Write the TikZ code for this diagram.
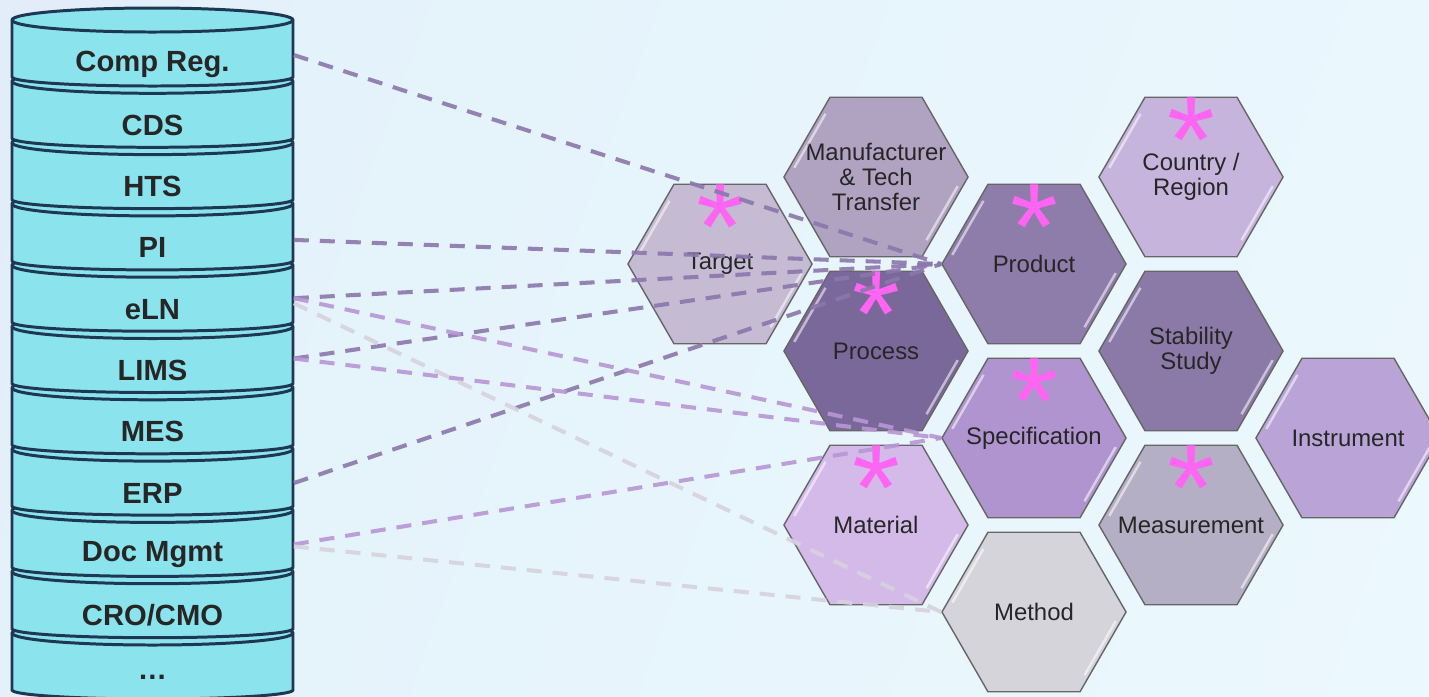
\documentclass[tikz,border=0pt]{standalone}
\usepackage{fontspec}
\setmainfont{Liberation Sans}
\usetikzlibrary{shapes.geometric, calc}

\definecolor{bgtop}{RGB}{238,250,254}
\definecolor{bgmid}{RGB}{228,242,251}
\definecolor{bglav}{RGB}{226,226,246}
\definecolor{dbfill}{RGB}{139,227,238}
\definecolor{dbline}{RGB}{30,56,84}
\definecolor{starpink}{RGB}{255,100,242}
\definecolor{linkdark}{RGB}{140,118,172}
\definecolor{linklight}{RGB}{184,150,214}
\definecolor{linkgrey}{RGB}{215,210,222}

\pgfdeclarehorizontalshading{bgshade}{100bp}{color(0bp)=(bglav); color(30bp)=(bgmid);
	color(100bp)=(bgtop)}

\tikzset{
	disk/.style={fill=dbfill, draw=dbline, line width=0.85pt},
	dblabel/.style={font=\bfseries\fontsize{8.3}{10}\selectfont, text=black!85,
		minimum width=2.81cm, inner sep=0pt},
	hexa/.style={regular polygon, regular polygon sides=6, minimum size=1.84cm,
		inner sep=0pt, draw=black!60, line width=0.4pt},
	hextext/.style={text=black!85, font=\fontsize{6.8}{7.1}\selectfont, align=center,
		inner sep=0pt},
	asterisk/.style={text=starpink, font=\fontsize{35}{35}\selectfont,
		inner sep=0pt, anchor=base},
	bevel/.style={white, opacity=0.55, line width=0.7pt, shorten <=3pt, shorten >=4pt},
	link/.style={line width=1.15pt, dash pattern=on 0.15cm off 0.11cm, opacity=0.9},
}

\begin{document}
\begin{tikzpicture}[x=0.01cm, y=0.01cm]

	% Background
	\shade[shading=bgshade, shading angle=-20] (0,0) rectangle (1429,-696);
	\useasboundingbox (0,0) rectangle (1429,-696);

	% Database disks, bottom first
	\foreach \k in {10,9,8,7,6,5,4,3,2,1,0} {
		\pgfmathsetmacro\dtop{-(20+61.3*\k)}
		\filldraw[disk] (12,\dtop) -- (12,\dtop-57)
			arc[start angle=180, end angle=360, x radius=140.5, y radius=9]
			-- (293,\dtop)
			arc[start angle=0, end angle=180, x radius=140.5, y radius=12] -- cycle;
		\draw[disk] (12,\dtop)
			arc[start angle=180, end angle=360, x radius=140.5, y radius=12];
	}

	% Database labels
	\foreach \nm/\txt [count=\k from 0] in {comp/Comp Reg., cds/CDS, hts/HTS,
			pi/PI, eln/eLN, lims/LIMS, mes/MES, erp/ERP, docm/Doc Mgmt,
			cro/{CRO/CMO}, more/{\ldots}}
		\node[dblabel] (\nm) at (152.5,-64-61.3*\k) {\txt};

	% Hexagons
	\node[hexa, fill={rgb,255:red,197;green,188;blue,212},
		label={[hextext]center:Target}] (target) at (720,-264) {};
	\node[hexa, fill={rgb,255:red,176;green,162;blue,193},
		label={[hextext]center:Manufacturer\\\& Tech\\Transfer}] (manuf) at (876,-177) {};
	\node[hexa, fill={rgb,255:red,142;green,124;blue,170},
		label={[hextext]center:Product}] (product) at (1034,-264) {};
	\node[hexa, fill={rgb,255:red,199;green,180;blue,221},
		label={[hextext]center:Country /\\Region}] (country) at (1191,-177) {};
	\node[hexa, fill={rgb,255:red,123;green,104;blue,154},
		label={[hextext]center:Process}] (process) at (876,-351) {};
	\node[hexa, fill={rgb,255:red,139;green,122;blue,168},
		label={[hextext]center:Stability\\Study}] (stability) at (1191,-351) {};
	\node[hexa, fill={rgb,255:red,175;green,148;blue,207},
		label={[hextext]center:Specification}] (spec) at (1034,-438) {};
	\node[hexa, fill={rgb,255:red,186;green,164;blue,215},
		label={[hextext]center:Instrument}] (instrument) at (1348,-438) {};
	\node[hexa, fill={rgb,255:red,212;green,186;blue,233},
		label={[hextext]center:Material}] (material) at (876,-525) {};
	\node[hexa, fill={rgb,255:red,181;green,175;blue,197},
		label={[hextext]center:Measurement}] (measure) at (1191,-525) {};
	\node[hexa, fill={rgb,255:red,213;green,212;blue,219},
		label={[hextext]center:Method}] (method) at (1034,-612) {};

	\foreach \n in {target, manuf, product, country, process, stability,
			spec, instrument, material, measure, method} {
		\draw[bevel] ($(\n)+(180:87)$) -- ($(\n)+(120:87)$);
		\draw[bevel] ($(\n)+(0:87)$) -- ($(\n)+(300:87)$);
	}

	% Asterisks
	\foreach \n in {target, product, country, process, spec, material, measure}
		\node[asterisk] (ast-\n) at ($(\n)+(0,-5)$) {*};

	% Links
	\draw[link, linkdark] ([yshift=0.09cm]comp.east) -- (product.west);
	\draw[link, linkdark] ([yshift=0.08cm]pi.east) -- (product.west);
	\draw[link, linkdark] ([yshift=0.11cm]eln.east) -- (product.west);
	\draw[link, linkdark] ([yshift=0.12cm]lims.east) -- (product.west);
	\draw[link, linkdark] ([yshift=0.10cm]erp.east) -- (product.west);

	\draw[link, linklight] ([yshift=0.11cm]eln.east) -- (spec.west);
	\draw[link, linklight] ([yshift=0.12cm]lims.east) -- (spec.west);
	\draw[link, linklight] ([yshift=0.10cm]docm.east) -- (spec.west);

	\draw[link, linkgrey] ([yshift=0.06cm]eln.east) -- (method.west);
	\draw[link, linkgrey] ([yshift=0.08cm]docm.east) -- (method.west);

\end{tikzpicture}
\end{document}
